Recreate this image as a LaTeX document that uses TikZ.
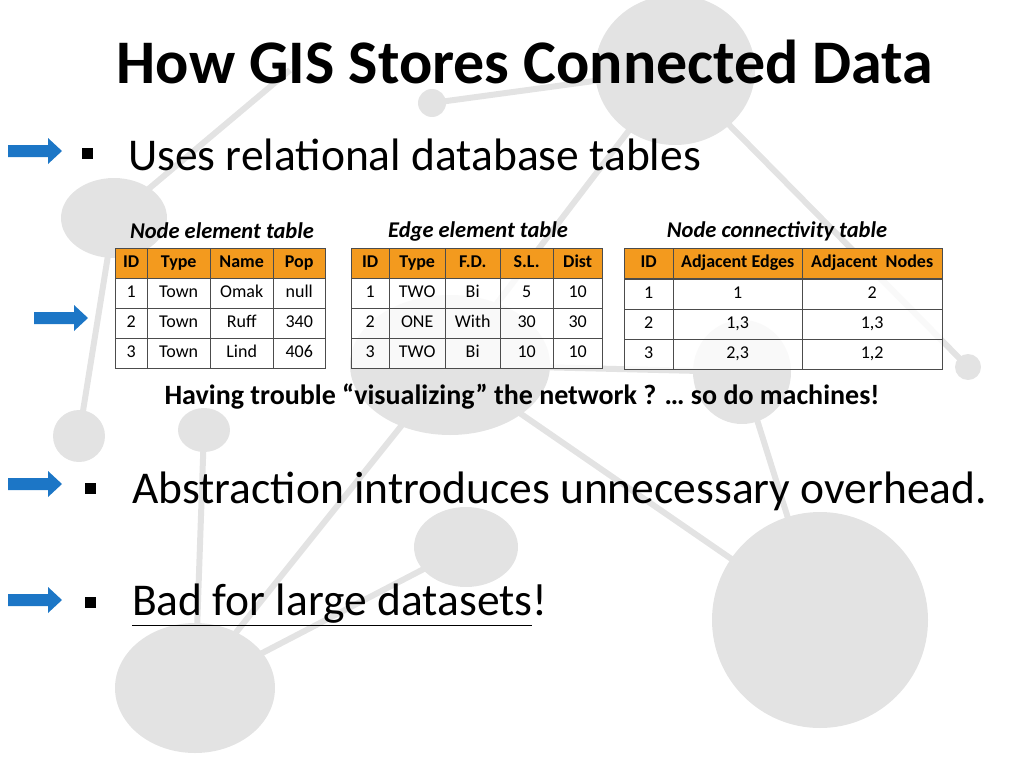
\documentclass[tikz,border=0pt]{standalone}
\usepackage{fontspec}
\setmainfont{Carlito}
\usetikzlibrary{positioning}
\definecolor{bgblob}{HTML}{E3E3E3}
\definecolor{hdr}{HTML}{F39A1E}
\definecolor{arrowblue}{HTML}{1C76C6}
\newcommand{\bluearrow}[2]{%
  \fill[arrowblue] (#1-27,#2-6) -- (#1+13,#2-6) -- (#1+13,#2-13) -- (#1+27,#2) -- (#1+13,#2+13) -- (#1+13,#2+6) -- (#1-27,#2+6) -- cycle;}
\begin{document}
\begin{tikzpicture}
        [x=1pt, y=-1pt,
        blob/.style={fill=bgblob},
        link/.style={draw=bgblob, line width=6pt},
        bullet/.style={anchor=west, font=\fontsize{45.5}{52}\selectfont, inner sep=0pt},
        sq/.style={fill=black, minimum size=11pt, inner sep=0pt},
        cell/.style={draw=black!70, fill=white, fill opacity=0.8, text opacity=1, inner sep=0pt, text height=0.85em, text depth=0.05em, font=\fontsize{18}{20}\selectfont},
        head/.style={draw=black!70, fill=hdr, inner sep=0pt, text height=0.85em, text depth=0.05em, font=\bfseries\fontsize{18}{20}\selectfont},
        ttitle/.style={font=\bfseries\itshape\fontsize{22.5}{26}\selectfont}]

        \useasboundingbox (0,0) rectangle (1024,768);

        % background network
        \path[link] (432,103) -- (675,70);
        \path[link] (114,218) -- (290,70);
        \path[link] (675,70) -- (450,365);
        \path[link] (675,70) -- (968,367);
        \path[link] (114,218) -- (79,436);
        \path[link] (450,365) -- (820,620);
        \path[link] (450,365) -- (230,640);
        \path[link] (204,430) -- (195,688);
        \path[link] (466,547) -- (195,688);
        \path[link] (742,372) -- (820,620);
        \path[link] (450,365) -- (742,372);
        \fill[blob] (675,70) ellipse (80 and 75);
        \fill[blob] (432,103) circle (14);
        \fill[blob] (114,218) ellipse (53 and 40);
        \fill[blob] (450,365) ellipse (100 and 70);
        \fill[blob] (742,372) ellipse (49 and 52);
        \fill[blob] (968,367) circle (13);
        \fill[blob] (79,436) circle (26);
        \fill[blob] (204,430) ellipse (26 and 22);
        \fill[blob] (466,547) ellipse (52 and 40);
        \fill[blob] (195,688) ellipse (80 and 65);
        \fill[blob] (820,620) ellipse (108 and 108);

        % title and bullets
        \node[font=\bfseries\fontsize{62}{70}\selectfont] (title) at (525,62) {How GIS Stores Connected Data};

        \bluearrow{35}{151}
        \node[sq] (b1) at (87,153) {};
        \node[bullet] (uses) at (128,155) {Uses relational database tables};

        \bluearrow{61}{318}

        \bluearrow{35}{484}
        \node[sq] (b2) at (90,488) {};
        \node[bullet] (abstr) at (132,491) {Abstraction introduces unnecessary overhead.};

        \bluearrow{35}{600}
        \node[sq] (b3) at (90,602) {};
        \node[bullet] (bad) at (132,605) {\underline{Bad for large datasets}!};

        % node element table
        \node[ttitle] (t1) at (222,231) {Node element table};
        \foreach \x/\w/\a/\b/\c/\d [count=\i] in {115/32/ID/1/2/3, 147/63/Type/Town/Town/Town, 210/63/Name/Omak/Ruff/Lind, 273/52/Pop/null/340/406} {
          \node[head, minimum width=\w pt, minimum height=30pt, anchor=north west] (ne\i h) at (\x,248) {\a};
          \node[cell, minimum width=\w pt, minimum height=30pt, anchor=north west] (ne\i a) at (\x,278) {\b};
          \node[cell, minimum width=\w pt, minimum height=30pt, anchor=north west] (ne\i b) at (\x,308) {\c};
          \node[cell, minimum width=\w pt, minimum height=30pt, anchor=north west] (ne\i c) at (\x,338) {\d};
        }

        % edge element table
        \node[ttitle] (t2) at (478,231) {Edge element table};
        \foreach \x/\w/\a/\b/\c/\d [count=\i] in {351/38/ID/1/2/3, 389/56/Type/TWO/ONE/TWO, 445/55/F.D./Bi/With/Bi, 500/53/S.L./5/30/10, 553/49/Dist/10/30/10} {
          \node[head, minimum width=\w pt, minimum height=30pt, anchor=north west] (ee\i h) at (\x,248) {\a};
          \node[cell, minimum width=\w pt, minimum height=30pt, anchor=north west] (ee\i a) at (\x,278) {\b};
          \node[cell, minimum width=\w pt, minimum height=30pt, anchor=north west] (ee\i b) at (\x,308) {\c};
          \node[cell, minimum width=\w pt, minimum height=30pt, anchor=north west] (ee\i c) at (\x,338) {\d};
        }

        % node connectivity table
        \node[ttitle] (t3) at (777,231) {Node connectivity table};
        \foreach \x/\w/\a/\b/\c/\d [count=\i] in {624/49/ID/1/2/3, 673/129/Adjacent Edges/1/{1,3}/{2,3}, 802/140/Adjacent~ Nodes/2/{1,3}/{1,2}} {
          \node[head, minimum width=\w pt, minimum height=30pt, anchor=north west] (nc\i h) at (\x,248) {\a};
          \node[cell, minimum width=\w pt, minimum height=30pt, anchor=north west] (nc\i a) at (\x,279) {\b};
          \node[cell, minimum width=\w pt, minimum height=30pt, anchor=north west] (nc\i b) at (\x,309) {\c};
          \node[cell, minimum width=\w pt, minimum height=30pt, anchor=north west] (nc\i c) at (\x,339) {\d};
        }

        \node[font=\bfseries\fontsize{28}{30}\selectfont] (caption) at (522,397) {Having trouble “visualizing” the network ? … so do machines!};

    \end{tikzpicture}
\end{document}
